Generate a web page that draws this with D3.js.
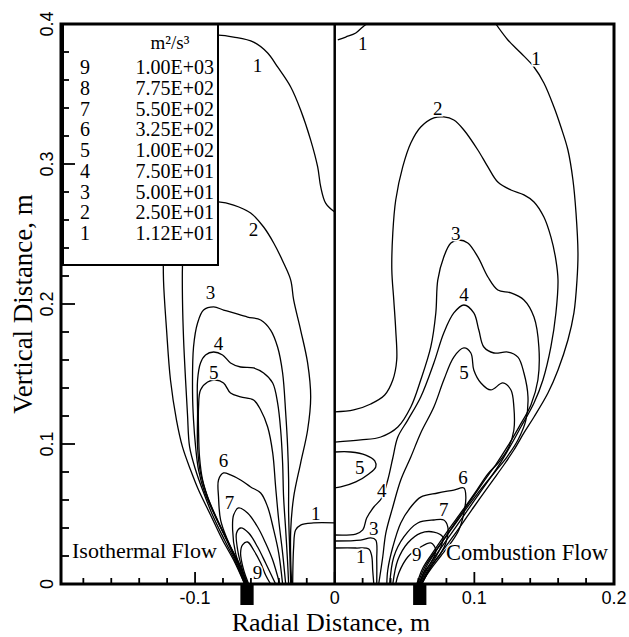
<!DOCTYPE html>
<html><head><meta charset="utf-8">
<script src="https://cdn.jsdelivr.net/npm/d3@7"></script>
<style>body{margin:0;background:#fff}</style>
</head><body>
<svg id="c" width="629" height="637"></svg>
<script>
// ---------- data ----------
const levelIds = ["9","8","7","6","5","4","3","2","1"];
const levelValues = ["1.00E+03","7.75E+02","5.50E+02","3.25E+02","1.00E+02","7.50E+01","5.00E+01","2.50E+01","1.12E+01"];
const legendUnit = "m²/s³";
const xTickValues = [-0.1, 0, 0.1, 0.2];
const xTickLabels = ["-0.1", "0", "0.1", "0.2"];
const yTickValues = [0, 0.1, 0.2, 0.3, 0.4];
const yTickLabels = ["0", "0.1", "0.2", "0.3", "0.4"];
const xDomain = [-0.196, 0.2];
const yDomain = [0, 0.4];
const nozzleCenters = [-0.0628, 0.0609];
const nozzleWidth = 0.0095, nozzleDepth = 0.015;
const panelTitles = ["Isothermal Flow", "Combustion Flow"];

// Isothermal (left) contour lines [x (m), y (m)]
const iso1Main = [[-0.0645,0],[-0.0724,0.0171],[-0.0803,0.0314],[-0.0889,0.0493],[-0.0975,0.0671],[-0.1032,0.0814],[-0.109,0.0979],[-0.1133,0.1171],[-0.1176,0.1457],[-0.1204,0.1814],[-0.1226,0.2171],[-0.1226,0.2457],[-0.1211,0.31],[-0.1176,0.36],[-0.1068,0.385],[-0.0925,0.3914],[-0.0832,0.3921],[-0.0724,0.3907],[-0.0581,0.3871],[-0.048,0.3793],[-0.0409,0.3693],[-0.0315,0.355],[-0.0244,0.3386],[-0.0172,0.3171],[-0.0122,0.2979],[-0.01,0.2836],[-0.0065,0.2721],[0,0.2657]];
const iso1Box = [[-0.0301,0],[-0.0294,0.0264],[-0.028,0.0386],[-0.0244,0.0421],[-0.0151,0.0436],[0,0.0436]];
const iso2 = [[-0.0645,0],[-0.0717,0.0171],[-0.0789,0.0314],[-0.0875,0.0493],[-0.0946,0.0671],[-0.0996,0.0814],[-0.1039,0.0979],[-0.1054,0.1207],[-0.1068,0.1457],[-0.1082,0.1743],[-0.109,0.2029],[-0.109,0.2279],[-0.1075,0.2529],[-0.1018,0.2671],[-0.0925,0.2721],[-0.0832,0.2729],[-0.0724,0.2707],[-0.0602,0.265],[-0.0509,0.255],[-0.0437,0.2436],[-0.0366,0.2293],[-0.0315,0.2171],[-0.0294,0.2029],[-0.0244,0.1814],[-0.0194,0.1579],[-0.0172,0.1336],[-0.0194,0.11],[-0.0244,0.0864],[-0.0294,0.0621],[-0.0315,0.0386],[-0.0315,0.0171],[-0.0308,0]];
const iso3 = [[-0.0638,0],[-0.071,0.0171],[-0.0774,0.0314],[-0.086,0.0493],[-0.0932,0.0657],[-0.0975,0.0814],[-0.0996,0.0979],[-0.1011,0.1171],[-0.1018,0.1364],[-0.1011,0.1693],[-0.0982,0.1864],[-0.0939,0.1957],[-0.0867,0.1979],[-0.0796,0.1957],[-0.0724,0.1936],[-0.0624,0.1907],[-0.053,0.1886],[-0.0459,0.1814],[-0.0409,0.1693],[-0.0373,0.1507],[-0.0351,0.1221],[-0.0337,0.0979],[-0.033,0.0743],[-0.033,0.0507],[-0.0323,0.0264],[-0.0315,0]];
const iso4 = [[-0.0638,0],[-0.0695,0.015],[-0.076,0.0293],[-0.0839,0.0457],[-0.091,0.0621],[-0.0961,0.0793],[-0.0982,0.0979],[-0.0982,0.1221],[-0.0982,0.1457],[-0.0961,0.1579],[-0.0925,0.1636],[-0.0867,0.1657],[-0.0803,0.1636],[-0.0746,0.1579],[-0.0674,0.155],[-0.0581,0.1543],[-0.0509,0.1507],[-0.0444,0.1436],[-0.0409,0.1293],[-0.0387,0.11],[-0.0373,0.0864],[-0.0366,0.0621],[-0.0351,0.0386],[-0.0337,0.015],[-0.033,0]];
const iso5 = [[-0.0631,0],[-0.0681,0.0136],[-0.0746,0.0264],[-0.0832,0.0436],[-0.0903,0.06],[-0.0946,0.0743],[-0.0968,0.0907],[-0.0975,0.11],[-0.0975,0.1264],[-0.0961,0.1386],[-0.091,0.1443],[-0.0853,0.1457],[-0.0796,0.1436],[-0.0746,0.1364],[-0.0674,0.1336],[-0.0581,0.1314],[-0.053,0.1243],[-0.048,0.1121],[-0.0444,0.0936],[-0.0423,0.0693],[-0.0401,0.0457],[-0.0373,0.0221],[-0.0351,0]];
const iso6 = [[-0.0631,0],[-0.0674,0.0121],[-0.0724,0.0221],[-0.0767,0.0314],[-0.0817,0.0457],[-0.0832,0.0621],[-0.0832,0.0743],[-0.0796,0.0793],[-0.0746,0.0779],[-0.0674,0.0743],[-0.0602,0.0693],[-0.053,0.065],[-0.048,0.055],[-0.0437,0.0386],[-0.0401,0.0221],[-0.0373,0]];
const iso7 = [[-0.0624,0],[-0.0667,0.01],[-0.071,0.0221],[-0.0731,0.0386],[-0.0724,0.0493],[-0.0688,0.0543],[-0.0624,0.0507],[-0.0552,0.0407],[-0.0495,0.0293],[-0.0444,0.0171],[-0.0394,0]];
const iso8 = [[-0.0624,0],[-0.066,0.01],[-0.0695,0.0243],[-0.0703,0.0364],[-0.0674,0.04],[-0.0616,0.0364],[-0.0552,0.0264],[-0.0495,0.015],[-0.0423,0]];
const iso9 = [[-0.0616,0],[-0.0652,0.01],[-0.0674,0.0221],[-0.066,0.0279],[-0.0624,0.03],[-0.0581,0.0243],[-0.053,0.015],[-0.0495,0.0064],[-0.0459,0]];

// Combustion (right) contour lines
const comb1Top = [[0.0022,0.3886],[0.0079,0.3907],[0.0151,0.3936],[0.0201,0.3979],[0.0229,0.4]];
const comb1Main = [[0.1154,0.4],[0.124,0.3886],[0.1333,0.3793],[0.1427,0.3693],[0.1498,0.3579],[0.157,0.3407],[0.162,0.3264],[0.167,0.31],[0.1706,0.2886],[0.1728,0.265],[0.1742,0.2364],[0.1735,0.2171],[0.1713,0.1936],[0.167,0.1743],[0.1599,0.1529],[0.1527,0.1364],[0.1427,0.1193],[0.1355,0.1079],[0.1283,0.0957],[0.1211,0.085],[0.1118,0.0721],[0.0996,0.055],[0.0882,0.0386],[0.076,0.0221],[0.0688,0.0121],[0.0624,0]];
const comb1Low = [[0,0.0257],[0.0151,0.0257],[0.0244,0.025],[0.0265,0.02],[0.0272,0.01],[0.028,0]];
const comb2 = [[0,0.1229],[0.0136,0.1243],[0.0258,0.1286],[0.0358,0.135],[0.0416,0.1457],[0.0444,0.16],[0.0437,0.1814],[0.0423,0.2029],[0.0409,0.2243],[0.0416,0.2507],[0.0437,0.2743],[0.0487,0.2979],[0.0545,0.315],[0.0616,0.3264],[0.071,0.3329],[0.0781,0.3336],[0.0853,0.3314],[0.0925,0.3243],[0.1025,0.31],[0.1097,0.2979],[0.1168,0.2871],[0.1262,0.2814],[0.1355,0.2779],[0.1427,0.2729],[0.1498,0.2621],[0.1548,0.2479],[0.1584,0.2314],[0.1599,0.2171],[0.1584,0.1936],[0.1548,0.1693],[0.1491,0.1457],[0.1427,0.1293],[0.1333,0.1121],[0.1262,0.0993],[0.119,0.0871],[0.1104,0.0743],[0.0982,0.0571],[0.0867,0.0407],[0.0746,0.0236],[0.0674,0.0129],[0.0609,0]];
const comb3 = [[0,0.1014],[0.0186,0.1029],[0.033,0.105],[0.0452,0.1121],[0.0545,0.1264],[0.0616,0.1457],[0.0688,0.1693],[0.0724,0.1936],[0.0738,0.2171],[0.0781,0.2336],[0.0832,0.2436],[0.0889,0.2457],[0.0953,0.2436],[0.1025,0.2336],[0.1097,0.2193],[0.1168,0.21],[0.1262,0.2079],[0.1355,0.2029],[0.1427,0.1907],[0.1462,0.1693],[0.1455,0.1457],[0.1405,0.1279],[0.1319,0.1121],[0.124,0.0986],[0.1161,0.0864],[0.1075,0.0743],[0.0961,0.0579],[0.0846,0.0414],[0.0731,0.0243],[0.0659,0.0129],[0.0602,0]];
const comb3Low = [[0,0.0307],[0.0186,0.0314],[0.0258,0.0329],[0.0294,0.0314],[0.0301,0.0171],[0.0301,0]];
const comb4 = [[0,0.035],[0.0151,0.0357],[0.0201,0.0386],[0.0229,0.0471],[0.028,0.055],[0.0337,0.0614],[0.038,0.0743],[0.0416,0.09],[0.0452,0.105],[0.0523,0.1171],[0.0616,0.1336],[0.071,0.1579],[0.0781,0.1793],[0.0853,0.1936],[0.0925,0.1993],[0.0996,0.1936],[0.1032,0.1814],[0.1068,0.1693],[0.114,0.165],[0.124,0.1657],[0.1312,0.1621],[0.1355,0.1507],[0.1384,0.1336],[0.1369,0.1171],[0.1312,0.1029],[0.1233,0.0907],[0.1147,0.08],[0.1054,0.0686],[0.0946,0.0543],[0.0832,0.0386],[0.0717,0.0229],[0.0645,0.0121],[0.0595,0]];
const comb5 = [[0.0315,0],[0.0344,0.0193],[0.0366,0.0364],[0.0416,0.055],[0.0473,0.0743],[0.0545,0.0907],[0.0616,0.1079],[0.071,0.1264],[0.0781,0.1457],[0.0853,0.1621],[0.0925,0.1686],[0.0975,0.165],[0.0996,0.1529],[0.1047,0.1436],[0.1118,0.1386],[0.1204,0.1436],[0.1262,0.1386],[0.1283,0.1264],[0.1283,0.11],[0.1247,0.0979],[0.1176,0.0871],[0.1097,0.0786],[0.1018,0.0671],[0.0918,0.0529],[0.0803,0.0371],[0.0695,0.0214],[0.0631,0.0114],[0.0588,0]];
const comb5Island = [[0,0.0943],[0.0115,0.0943],[0.0222,0.0921],[0.0287,0.0879],[0.0294,0.0836],[0.0244,0.0786],[0.0151,0.0729],[0.0043,0.0693],[0,0.0686]];
const comb6 = [[0.0373,0],[0.038,0.01],[0.0416,0.0264],[0.0473,0.0436],[0.0545,0.055],[0.0616,0.0621],[0.0738,0.065],[0.0853,0.0671],[0.0925,0.0686],[0.0939,0.0621],[0.0925,0.0507],[0.0889,0.0386],[0.0832,0.0293],[0.076,0.02],[0.0688,0.0107],[0.0616,0]];
const comb7 = [[0.0394,0],[0.0423,0.0193],[0.0495,0.0336],[0.0595,0.0436],[0.071,0.0457],[0.0781,0.0457],[0.081,0.0407],[0.0796,0.0293],[0.076,0.0221],[0.0688,0.0121],[0.0624,0]];
const comb8 = [[0.0416,0],[0.0452,0.0171],[0.0523,0.0293],[0.0616,0.0364],[0.071,0.0371],[0.0774,0.0336],[0.076,0.0264],[0.0724,0.0193],[0.0667,0.01],[0.0616,0]];
const comb9 = [[0.0437,0],[0.0459,0.0079],[0.0523,0.0193],[0.0616,0.0264],[0.0688,0.0293],[0.0724,0.0243],[0.0688,0.015],[0.0638,0.0079],[0.0609,0]];

const allContours = [iso1Main, iso1Box, iso2, iso3, iso4, iso5, iso6, iso7, iso8, iso9,
  comb1Top, comb1Main, comb1Low, comb2, comb3, comb3Low, comb4, comb5, comb5Island, comb6, comb7, comb8, comb9];

// contour labels: [text, x, y]
const isoLabels = [["1",-0.0552,0.3707],["2",-0.0581,0.2529],["3",-0.0889,0.2079],["4",-0.0832,0.1721],["5",-0.0867,0.1514],["6",-0.0796,0.0879],["7",-0.0753,0.0579],["9",-0.0552,0.0079],["1",-0.0136,0.0505]];
const combLabels = [["1",0.0201,0.3864],["1",0.1441,0.3757],["2",0.0738,0.34],["3",0.0867,0.2507],["4",0.0925,0.2071],["5",0.0925,0.1514],["5",0.0179,0.0829],["4",0.0337,0.0671],["3",0.028,0.04],["1",0.0186,0.0193],["6",0.0918,0.0764],["7",0.0781,0.0529],["9",0.0588,0.0214]];

// ---------- drawing ----------
const svg = d3.select("#c");
const x = d3.scaleLinear().domain(xDomain).range([61, 614]);
const y = d3.scaleLinear().domain(yDomain).range([584, 24]);
const serif = "'Liberation Serif','Times New Roman',serif";
const sans = "'Liberation Sans',Arial,sans-serif";

svg.append("defs").append("clipPath").attr("id","plot")
  .append("rect").attr("x", x.range()[0]).attr("y", y.range()[1])
  .attr("width", x.range()[1]-x.range()[0]).attr("height", y.range()[0]-y.range()[1]);

const line = d3.line().x(d => x(d[0])).y(d => y(d[1])).curve(d3.curveCatmullRom.alpha(0.5));
svg.append("g").attr("clip-path","url(#plot)")
  .selectAll("path").data(allContours).join("path")
  .attr("d", line).attr("fill","none").attr("stroke","#000").attr("stroke-width",1.3);

// contour labels
svg.append("g").selectAll("text").data(isoLabels.concat(combLabels)).join("text")
  .attr("x", d => x(d[1])).attr("y", d => y(d[2]))
  .attr("text-anchor","middle").attr("dominant-baseline","central")
  .attr("font-family", serif).attr("font-size", 19)
  .attr("stroke","#fff").attr("stroke-width",3).attr("paint-order","stroke")
  .attr("fill","#000").text(d => d[0]);

// panel titles
svg.append("text").attr("x", 72).attr("y", 558).attr("font-family", serif).attr("font-size", 22)
  .attr("stroke","#fff").attr("stroke-width",3).attr("paint-order","stroke").text(panelTitles[0]);
svg.append("text").attr("x", 446).attr("y", 560).attr("font-family", serif).attr("font-size", 22.5)
  .attr("stroke","#fff").attr("stroke-width",3).attr("paint-order","stroke").text(panelTitles[1]);

// nozzles
svg.append("g").selectAll("rect").data(nozzleCenters).join("rect")
  .attr("x", d => x(d - nozzleWidth/2)).attr("width", d => x(d + nozzleWidth/2) - x(d - nozzleWidth/2))
  .attr("y", y(0)).attr("height", y(-nozzleDepth) - y(0)).attr("fill","#000");

// legend
const lg = svg.append("g");
lg.append("rect").attr("x", 63).attr("y", 24).attr("width", 155).attr("height", 241)
  .attr("fill","#fff").attr("stroke","#000").attr("stroke-width",2);
lg.append("text").attr("x", 170).attr("y", 49).attr("text-anchor","middle")
  .attr("font-family", serif).attr("font-size", 19).text(legendUnit);
levelIds.forEach((id, i) => {
  const yy = 67 + i * 20.75;
  lg.append("text").attr("x", 85).attr("y", yy).attr("dominant-baseline","central").attr("text-anchor","middle")
    .attr("font-family", serif).attr("font-size", 20).text(id);
  lg.append("text").attr("x", 214).attr("y", yy).attr("dominant-baseline","central").attr("text-anchor","end")
    .attr("font-family", serif).attr("font-size", 20).text(levelValues[i]);
});

// ticks
const ax = svg.append("g").attr("stroke","#000").attr("stroke-width",1.8);
const xMinor = d3.range(-9, 10).map(k => +(k*0.02).toFixed(2)).filter(v => !xTickValues.includes(v) && v > xDomain[0]);
const yMinor = d3.range(1, 20).map(k => +(k*0.02).toFixed(2)).filter(v => !yTickValues.includes(v));
xMinor.forEach(v => ax.append("line").attr("x1", x(v)).attr("x2", x(v)).attr("y1", y(0)).attr("y2", y(0)-6));
xTickValues.forEach(v => ax.append("line").attr("x1", x(v)).attr("x2", x(v)).attr("y1", y(0)).attr("y2", y(0)-12));
yMinor.forEach(v => ax.append("line").attr("x1", x.range()[0]).attr("x2", x.range()[0]+8).attr("y1", y(v)).attr("y2", y(v)));
yTickValues.forEach(v => ax.append("line").attr("x1", x.range()[0]).attr("x2", x.range()[0]+14).attr("y1", y(v)).attr("y2", y(v)));

// divider at x = 0
svg.append("line").attr("x1", x(0)).attr("x2", x(0)).attr("y1", y(0.4)).attr("y2", y(0))
  .attr("stroke","#000").attr("stroke-width",2.5);

// frame
svg.append("rect").attr("x", x.range()[0]).attr("y", y.range()[1])
  .attr("width", x.range()[1]-x.range()[0]).attr("height", y.range()[0]-y.range()[1])
  .attr("fill","none").attr("stroke","#000").attr("stroke-width",3);

// tick labels
svg.append("g").selectAll("text").data(xTickValues).join("text")
  .attr("x", d => x(d)).attr("y", 604).attr("text-anchor","middle")
  .attr("font-family", sans).attr("font-size", 18).text((d,i) => xTickLabels[i]);
svg.append("g").selectAll("text").data(yTickValues).join("text")
  .attr("transform", d => `translate(53,${y(d)}) rotate(-90)`).attr("text-anchor","middle")
  .attr("font-family", sans).attr("font-size", 18).text((d,i) => yTickLabels[i]);

// axis titles
svg.append("text").attr("x", 331).attr("y", 631).attr("text-anchor","middle")
  .attr("font-family", serif).attr("font-size", 26).text("Radial Distance, m");
svg.append("text").attr("transform", "translate(32,304) rotate(-90)").attr("text-anchor","middle")
  .attr("font-family", serif).attr("font-size", 27).text("Vertical Distance, m");
</script>
</body></html>
